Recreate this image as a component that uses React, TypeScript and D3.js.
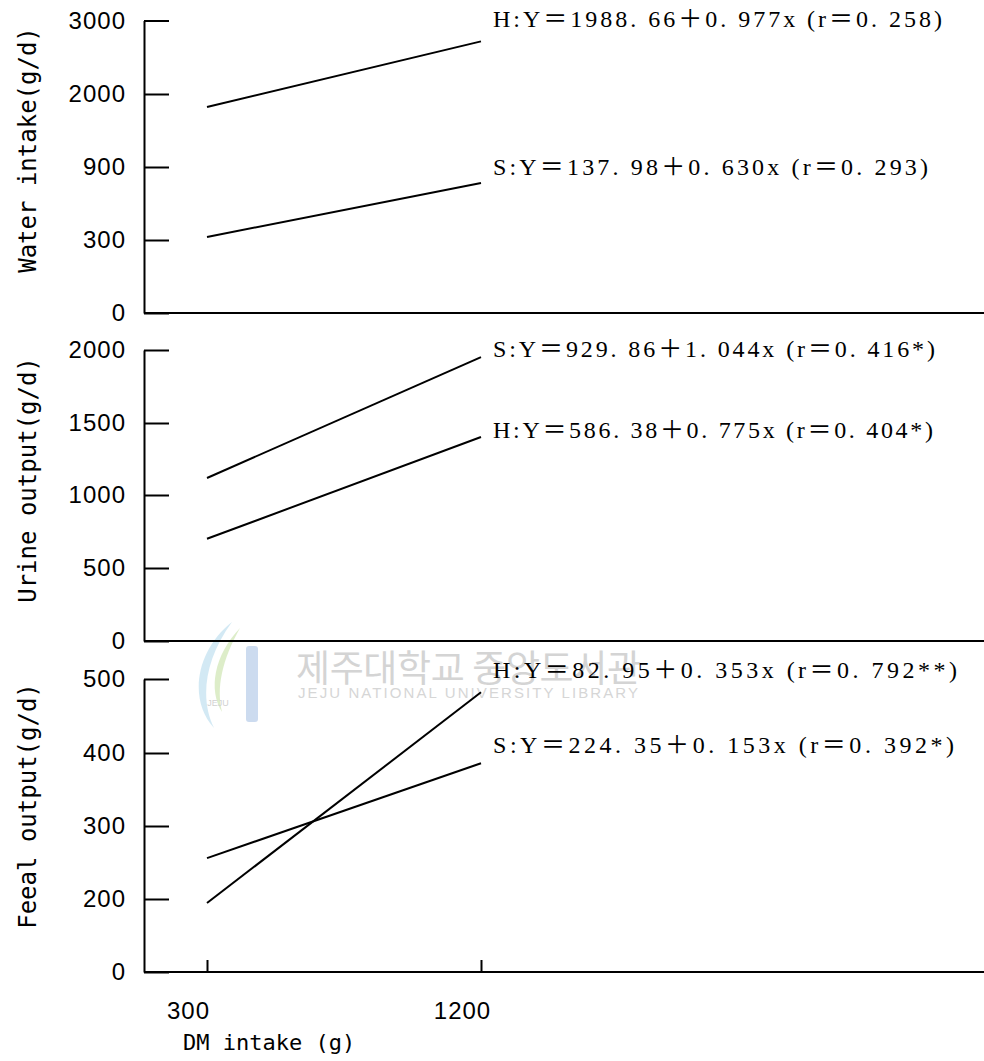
import React, { useEffect, useRef } from "react";
import * as d3 from "d3";

// DM intake (g) at the two ends of each regression line
const dmIntake = [300, 1200];
const xTicks = [300, 1200];

// y tick values (axes are not linear, ticks are evenly spaced)
const waterTicks = [0, 300, 900, 2000, 3000];
const urineTicks = [0, 500, 1000, 1500, 2000];
const fecalTicks = [0, 200, 300, 400, 500];

// line values at x = 300 and x = 1200
const waterH = [1804, 2716];
const waterS = [325, 768];
const urineS = [1118, 1951];
const urineH = [700, 1403];
const fecalH = [189, 482];
const fecalS = [256, 386];

const waterEq = ["H:Y＝1988. 66＋0. 977x (r＝0. 258)", "S:Y＝137. 98＋0. 630x (r＝0. 293)"];
const urineEq = ["S:Y＝929. 86＋1. 044x (r＝0. 416*)", "H:Y＝586. 38＋0. 775x (r＝0. 404*)"];
const fecalEq = ["H:Y＝82. 95＋0. 353x (r＝0. 792**)", "S:Y＝224. 35＋0. 153x (r＝0. 392*)"];

const titles = ["Water intake(g/d)", "Urine output(g/d)", "Feeal output(g/d)"];

const W = 984;
const H = 1061;
const axisX = 144;

export default function App() {
  const ref = useRef<SVGSVGElement>(null);

  useEffect(() => {
    const svg = d3.select(ref.current);
    svg.selectAll("*").remove();

    const x = d3.scaleLinear().domain([300, 1200]).range([207, 481]);

    // watermark
    const wm = svg.append("g").attr("opacity", 0.45);
    wm.append("path")
      .attr("d", "M232,622 C196,650 188,700 214,728 C200,700 204,660 232,622 Z")
      .attr("fill", "#9fd0e8");
    wm.append("path")
      .attr("d", "M240,628 C214,655 208,690 222,712 C216,688 222,660 240,628 Z")
      .attr("fill", "#b5d98a");
    wm.append("rect").attr("x", 246).attr("y", 646).attr("width", 12).attr("height", 76).attr("rx", 3).attr("fill", "#8fb0dd");
    wm.append("text").attr("x", 218).attr("y", 706).attr("font-size", 9).attr("fill", "#999")
      .attr("font-family", "Liberation Sans").attr("text-anchor", "middle").text("JEJU");
    svg.append("text")
      .attr("x", 296).attr("y", 682)
      .attr("font-family", "Noto Sans CJK KR").attr("font-size", 37)
      .attr("fill", "#d4d4d4").attr("textLength", 345)
      .text("제주대학교 중앙도서관");
    svg.append("text")
      .attr("x", 298).attr("y", 698)
      .attr("font-family", "Liberation Sans").attr("font-size", 15)
      .attr("fill", "#d6d6d6").attr("textLength", 340)
      .text("JEJU NATIONAL UNIVERSITY LIBRARY");

    const panels = [
      {
        ticks: waterTicks,
        range: [313, 240, 167, 94, 20.5],
        lines: [waterH, waterS],
        eq: waterEq,
        eqDy: [-14, -8],
        eqLen: [449, 435],
        title: titles[0],
        titleY: 150,
      },
      {
        ticks: urineTicks,
        range: [641, 568, 495, 423, 350],
        lines: [urineS, urineH],
        eq: urineEq,
        eqDy: [0, 1],
        eqLen: [442, 440],
        title: titles[1],
        titleY: 480,
      },
      {
        ticks: fecalTicks,
        range: [972, 899, 826, 753, 679],
        lines: [fecalH, fecalS],
        eq: fecalEq,
        eqDy: [-14, -10],
        eqLen: [464, 461],
        title: titles[2],
        titleY: 806,
      },
    ];

    panels.forEach((p, i) => {
      const y = d3.scaleLinear().domain(p.ticks).range(p.range);
      const g = svg.append("g");

      // x baseline across the full width
      g.append("line")
        .attr("x1", axisX).attr("x2", W)
        .attr("y1", y(0)).attr("y2", y(0))
        .attr("stroke", "#000").attr("stroke-width", 2);

      const yAxis = g.append("g")
        .attr("transform", `translate(${axisX},0)`)
        .call(d3.axisLeft(y).tickValues(p.ticks).tickSizeInner(-25).tickSizeOuter(0).tickPadding(18).tickFormat(d3.format("d")));
      yAxis.selectAll("path, line").attr("stroke", "#000").attr("stroke-width", 2);
      yAxis.selectAll("text")
        .attr("font-family", "Liberation Sans")
        .attr("font-size", 24)
        .attr("letter-spacing", 1)
        .attr("fill", "#000");

      const line = d3.line<number>()
        .x((_, j) => x(dmIntake[j]))
        .y((d) => y(d));

      p.lines.forEach((vals, k) => {
        g.append("path")
          .attr("d", line(vals))
          .attr("fill", "none")
          .attr("stroke", "#000")
          .attr("stroke-width", 2);
        g.append("text")
          .attr("x", x(1200) + 12)
          .attr("y", y(vals[1]) + p.eqDy[k])
          .attr("font-family", "Liberation Serif, Noto Sans CJK KR")
          .attr("font-size", 24)
          .attr("textLength", p.eqLen[k])
          .attr("lengthAdjust", "spacing")
          .text(p.eq[k]);
      });

      g.append("text")
        .attr("transform", `translate(36,${p.titleY}) rotate(-90)`)
        .attr("text-anchor", "middle")
        .attr("font-family", "DejaVu Sans Mono")
        .attr("font-size", 24)
        .text(p.title);

      if (i === 2) {
        const xAxis = g.append("g")
          .attr("transform", `translate(0,${y(0)})`)
          .call(d3.axisBottom(x).tickValues(xTicks).tickSizeInner(-12).tickSizeOuter(0).tickPadding(30).tickFormat(d3.format("d")));
        xAxis.select(".domain").remove();
        xAxis.selectAll("line").attr("stroke", "#000").attr("stroke-width", 2);
        xAxis.selectAll("text")
          .attr("dx", -19)
          .attr("font-family", "Liberation Sans")
          .attr("font-size", 24)
          .attr("letter-spacing", 1)
          .attr("fill", "#000");
      }
    });

    svg.append("text")
      .attr("x", 183).attr("y", 1050)
      .attr("font-family", "DejaVu Sans Mono")
      .attr("font-size", 22)
      .text("DM intake (g)");
  }, []);

  return (
    <svg
      ref={ref}
      width={W}
      height={H}
      style={{ position: "absolute", left: 0, top: 0, display: "block", background: "#fff" }}
    />
  );
}
